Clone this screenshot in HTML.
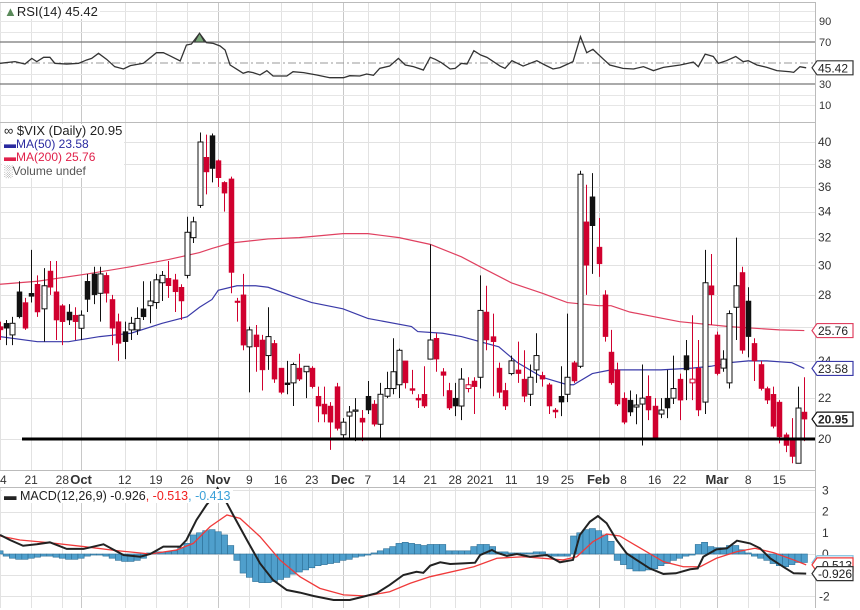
<!DOCTYPE html>
<html><head><meta charset="utf-8"><style>
html,body{margin:0;padding:0;background:#fff;}
svg{display:block;font-family:"Liberation Sans",sans-serif;}
</style></head><body>
<svg id="chart" width="860" height="610" viewBox="0 0 860 610" xmlns="http://www.w3.org/2000/svg"></svg>
<script>
// ---- data ----
const candleOpen=[26.0,26.2,25.5,28.2,27.5,28.1,28.7,27.1,29.6,28.2,27.3,26.9,26.7,25.9,28.9,29.4,28.1,29.3,27.7,26.3,25.7,25.8,25.8,27.1,27.3,27.5,28.8,29.1,29.0,28.5,29.3,32.0,34.5,38.6,40.6,38.3,36.4,36.7,27.6,28.0,24.8,25.5,25.2,24.3,25.0,23.6,22.8,22.8,23.6,23.4,23.6,22.1,21.7,21.6,22.6,20.2,21.1,21.35,21.0,22.1,21.7,20.7,22.1,22.5,22.7,24.0,22.5,22.0,22.2,24.1,25.3,23.4,22.4,22.0,21.6,22.5,22.9,23.1,26.9,25.4,23.6,22.4,23.3,23.5,23.0,22.2,23.5,23.2,22.7,21.4,22.1,22.2,23.9,23.7,33.2,35.2,31.3,28.0,24.5,23.5,22.0,21.9,21.55,21.7,22.1,21.6,21.2,22.0,22.0,23.0,24.3,22.8,23.6,21.8,28.6,25.5,23.6,22.8,27.2,29.5,27.6,25.0,23.8,22.5,22.2,21.8,20.2,20.0,18.9,21.3];
const candleHigh=[26.3,26.4,26.6,28.9,27.8,31.1,29.3,29.8,30.3,30.3,27.4,27.4,27.2,27.0,29.4,29.9,29.9,29.5,28.0,26.8,26.3,26.6,27.2,28.9,28.9,29.4,29.6,30.3,29.4,28.7,33.6,33.6,40.9,40.7,40.8,38.4,36.5,36.9,27.8,29.4,26.0,26.1,25.5,27.2,25.2,23.6,24.0,23.9,24.4,23.7,23.7,22.6,22.6,21.8,22.8,21.0,21.6,22.0,21.4,22.9,21.9,22.8,23.4,25.3,24.7,24.0,23.5,22.2,23.7,31.5,25.6,23.6,22.8,22.8,23.6,23.1,23.1,29.3,28.6,26.8,23.9,22.8,24.3,25.1,24.6,23.8,25.6,23.4,22.8,21.5,23.7,26.8,24.0,37.4,36.2,37.2,33.5,28.3,25.8,23.9,22.3,22.4,22.2,23.8,23.2,22.0,22.0,23.5,24.3,23.3,25.2,26.7,25.2,31.1,30.8,25.7,24.6,27.0,32.0,29.9,28.5,25.3,24.0,22.6,22.6,21.9,20.3,21.0,22.6,23.1];
const candleLow=[25.2,24.9,24.9,26.5,25.8,27.5,26.6,25.1,28.0,25.2,24.9,26.1,25.2,25.2,26.9,27.4,26.3,27.5,24.9,24.0,24.1,25.2,25.5,26.4,26.2,27.1,27.6,27.8,26.9,26.4,29.1,31.6,34.3,35.4,36.4,36.0,34.0,28.1,26.3,24.6,22.3,23.4,22.4,23.5,22.8,22.2,22.2,21.6,22.9,22.0,22.5,20.8,20.8,19.5,20.4,20.0,20.0,19.9,19.9,21.2,20.6,20.0,22.0,22.2,22.0,22.5,22.2,21.5,21.5,24.1,23.4,22.1,21.4,21.1,20.9,22.3,21.2,22.5,24.6,22.1,22.0,21.4,23.2,22.8,21.8,21.6,22.8,22.6,21.2,21.0,21.1,21.8,22.8,23.6,28.0,29.4,29.2,25.1,22.7,21.6,20.7,21.1,20.7,19.7,20.9,20.0,21.0,21.0,21.7,20.9,21.9,21.9,21.1,21.2,26.1,23.2,23.4,22.5,25.2,24.4,24.2,22.9,22.4,21.7,20.5,19.8,19.4,18.9,18.9,19.9];
const candleClose=[25.8,25.9,26.2,26.6,25.9,27.9,26.9,28.6,28.5,26.4,26.3,26.4,26.3,26.7,27.7,28.0,29.4,28.1,25.9,25.0,25.1,26.2,26.5,26.6,27.6,29.0,29.3,28.6,28.2,27.6,32.4,33.2,40.0,37.3,37.6,36.8,35.5,29.5,27.5,24.9,25.8,24.8,23.5,25.4,23.0,22.3,22.7,23.8,23.0,23.7,22.6,21.6,21.2,20.8,20.5,20.8,21.3,21.4,20.8,21.4,20.7,22.2,22.5,23.4,24.6,22.8,22.4,21.9,21.6,25.2,24.1,23.2,21.5,21.6,23.0,22.7,22.6,27.0,25.2,25.1,22.3,21.6,24.0,23.3,22.1,23.1,24.3,23.0,21.6,21.3,21.8,23.1,22.9,37.1,30.0,32.9,30.1,25.4,22.8,21.7,20.8,21.3,21.65,22.0,21.4,20.0,21.4,21.5,22.5,21.9,23.5,23.0,21.4,28.8,28.0,23.3,24.1,26.8,28.6,24.6,25.4,24.0,22.5,21.9,20.6,20.1,19.7,19.2,21.5,20.95];
const ma50Days=[0,6,11,16,21,26,30,32,34,35,38,41,43,47,50,55,59,66,67,71,74,77,80,83,87,91,92,95,98,101,106,111,114,117,120,123,127,129];
const ma50Vals=[25.4,25.1,25.1,25.4,25.6,26.2,26.6,27.2,27.7,28.3,28.6,28.6,28.5,27.9,27.5,27.1,26.5,26.0,25.7,25.6,25.4,25.1,24.8,23.9,23.1,22.7,22.7,23.3,23.5,23.5,23.5,23.6,23.7,23.9,24.0,24.0,23.9,23.58];
const ma200Days=[0,6,14,21,27,32,34,37,43,48,55,59,64,69,74,77,82,87,91,96,98,101,109,117,125,129];
const ma200Vals=[28.7,28.9,29.4,29.9,30.4,30.9,31.2,31.6,31.9,32.0,32.3,32.3,32.0,31.5,30.6,29.9,28.8,28.1,27.5,27.3,27.3,26.9,26.3,26.0,25.8,25.76];
const rsiDays=[0,2.4,4,5.1,5.9,7,8,8.8,10.7,12.6,13.9,14.7,15.8,17.1,18.4,19.8,20.9,23,25.1,26.2,27.3,28.9,29.9,30.7,32,33.1,34.2,35.3,36.1,36.9,38,39,39.8,40.6,41.7,42.8,43.8,46,47,48.7,50.8,52.9,55.1,56.1,57.7,58.8,59.9,60.9,62.5,63.9,65,66.3,67.9,69,69.8,70.8,72.2,73,74,74.9,76,77.1,78.1,80.2,81,82.1,83.9,86.1,87.4,88.7,89.8,91.9,93.1,94.1,95.1,96.8,97.8,99.9,101.6,103.2,104.8,106.4,109.1,111.2,112,113.1,114.4,115.2,116.5,118,119.2,120,121.4,123,124.6,126.7,127.3,128.3,129.3];
const rsiVals=[49.7,51.3,49.0,54.4,51.3,55.4,55.4,49.7,49.0,49.7,52.9,54.4,59.2,53.5,46.5,44.3,47.5,49.7,59.8,59.8,56.7,51.9,67.1,68.1,78.3,69.4,68.7,66.2,62.4,48.1,44.0,40.2,41.7,40.8,38.6,42.7,37.6,37.6,41.7,40.8,38.6,36.0,36.0,37.9,37.6,39.5,38.3,44.9,47.1,54.4,48.1,46.5,43.3,55.4,53.5,50.3,44.3,44.9,49.7,49.0,61.7,57.6,55.4,47.1,44.9,52.2,47.1,52.2,48.1,44.3,45.6,51.3,75.1,59.8,63.0,53.5,48.1,44.9,44.3,46.5,42.7,45.8,48.1,50.9,46.5,58.4,56.2,49.7,52.2,56.2,51.3,52.2,48.1,45.8,42.7,41.7,41.1,46.5,45.42];
const macdDays=[0,1.6,3.7,5.9,8,10.7,13.4,16.6,19.8,22.5,24.1,26.2,28.9,29.9,31.5,33.1,34.2,34.9,36.4,37.4,39.6,41.7,43.8,46,48.1,50.3,53.5,56.1,58.3,60.4,62.5,64.7,66.8,67.9,69,70.6,72.2,74.3,76.2,77,78.9,79.7,81.3,82.9,85,87.7,89.8,91.9,93,94.6,95.9,97.3,98.9,100.5,102.1,104.2,106.4,108.4,110.7,111.9,112.8,114.9,116.6,118.2,120.3,121.9,123.5,125.6,127.3,129.3];
const macdVals=[0.9,0.66,0.39,0.46,0.55,0.24,0.24,0.46,-0.05,-0.13,0,0.35,0.35,0.66,1.6,2.31,2.7,3.1,2.39,1.84,0.66,-0.44,-1.23,-1.7,-1.82,-1.98,-2.17,-2.17,-2.01,-1.85,-1.46,-0.99,-0.84,-0.89,-0.55,-0.39,-0.47,-0.44,-0.41,-0.05,0.19,0.06,-0.09,0,-0.13,-0.05,-0.39,-0.28,0.9,1.52,1.79,1.45,0.66,0.03,-0.28,-0.68,-0.94,-0.91,-0.72,-0.68,-0.13,0.22,0.27,0.63,0.5,0.27,-0.2,-0.6,-0.91,-0.926];
const signalDays=[0,3.2,8,13.4,18.7,24.1,28.3,31,33.7,36.4,38.5,41.7,44.9,48.1,51.3,55.1,58.8,62.5,65.8,69,76,79.7,84,90.3,92.5,95.1,97.3,99.4,103.2,106.4,109.6,112.3,114.9,118.2,121.1,124.1,127.3,129.3];
const signalVals=[0.85,0.66,0.53,0.35,0.16,0,0.19,0.5,1.29,1.84,1.68,0.82,-0.28,-1.07,-1.62,-1.93,-1.98,-1.78,-1.38,-1.07,-0.6,-0.2,-0.13,-0.28,-0.13,0.58,0.94,0.85,0.19,-0.36,-0.6,-0.6,-0.2,0.11,0.27,0.06,-0.28,-0.513];
const histVals=[0.15,-0.1,-0.2,-0.25,-0.25,-0.2,-0.15,-0.1,-0.1,-0.15,-0.2,-0.25,-0.25,-0.2,-0.1,-0.05,-0.05,-0.1,-0.2,-0.3,-0.35,-0.35,-0.3,-0.2,0.05,0.1,0.1,0.1,0.15,0.3,0.5,0.9,1.0,1.1,1.15,1.05,0.9,0.4,-0.3,-0.9,-1.1,-1.3,-1.35,-1.35,-1.3,-1.2,-1.1,-0.95,-0.85,-0.75,-0.65,-0.55,-0.5,-0.45,-0.4,-0.3,-0.25,-0.15,-0.1,-0.05,0.05,0.15,0.25,0.35,0.5,0.55,0.5,0.45,0.4,0.45,0.45,0.45,0.15,0.15,0.15,0.15,0.35,0.45,0.45,0.35,0.1,0.1,0.05,0.05,0.05,0.05,0.1,0.1,-0.1,-0.1,-0.1,-0.1,0.85,1.0,1.15,1.2,1.1,0.9,0.6,-0.3,-0.5,-0.7,-0.8,-0.8,-0.75,-0.7,-0.55,-0.45,-0.3,-0.2,-0.1,-0.05,0.45,0.55,0.35,0.3,0.3,0.4,0.4,0.2,0.05,-0.1,-0.2,-0.3,-0.45,-0.55,-0.6,-0.5,-0.4,-0.4];
const tickDays=[0,5,10,13,20,25,30,35,40,45,50,55,59,64,69,73,77,82,87,91,96,100,105,109,115,120,125];
const tickLabels=["14","21","28","Oct","12","19","26","Nov","9","16","23","Dec","7","14","21","28","2021","11","19","25","Feb","8","16","22","Mar","8","15"];
const priceTicks=[20,22,24,26,28,30,32,34,36,38,40];
const rsiTicks=[10,30,50,70,90];
const macdTicks=[-2,-1,0,1,2,3];
const supportLevel=20;

// ---- axes ----
const NS="http://www.w3.org/2000/svg";
const svg=document.getElementById('chart');
const PR=815;
const xd=i=>i*6.235;
const yP=p=>142+428.5*Math.log(40/p);
const yR=r=>63-(r-50)*1.05;
const yM=m=>554-m*21.2;
function mk(tag,attrs,parent){const e=document.createElementNS(NS,tag);for(const k in attrs)e.setAttribute(k,attrs[k]);(parent||svg).appendChild(e);return e;}
function txt(x,y,s,attrs,parent){const t=mk('text',Object.assign({x:x,y:y},attrs),parent);t.textContent=s;return t;}

// panel frames
const gGrid=mk('g',{});


mk('line',{x1:0,y1:2.5,x2:PR,y2:2.5,stroke:'#bbb'},gGrid);
mk('line',{x1:0,y1:122.5,x2:PR,y2:122.5,stroke:'#bbb'},gGrid);
mk('line',{x1:0,y1:470.5,x2:PR,y2:470.5,stroke:'#bbb'},gGrid);
mk('line',{x1:0,y1:487.5,x2:PR,y2:487.5,stroke:'#bbb'},gGrid);
mk('line',{x1:PR+0.5,y1:2,x2:PR+0.5,y2:608,stroke:'#bbb'},gGrid);
// vertical grid
tickDays.forEach((d,k)=>{const isMonth=isNaN(+tickLabels[k]);const x=Math.round(xd(d))+0.5;
 [[3,122],[123,470],[488,608]].forEach(r=>mk('line',{x1:x,y1:r[0],x2:x,y2:r[1],stroke:isMonth?'#c8c8c8':'#e2e2e2'},gGrid));});
// horizontal grids
for(let r=10;r<=100;r+=10){if(r===30||r===70||r===50)continue;const y=Math.round(yR(r))+0.5;mk('line',{x1:0,y1:y,x2:PR,y2:y,stroke:'#e6e6e6'},gGrid);}
priceTicks.forEach(p=>{const y=Math.round(yP(p))+0.5;mk('line',{x1:0,y1:y,x2:PR,y2:y,stroke:'#e2e2e2'},gGrid);});
macdTicks.forEach(m=>{const y=Math.round(yM(m))+0.5;mk('line',{x1:0,y1:y,x2:PR,y2:y,stroke:'#e2e2e2'},gGrid);});

// ---- RSI panel ----
const gR=mk('g',{});


mk('line',{x1:0,y1:yR(70),x2:PR,y2:yR(70),stroke:'#777','stroke-width':1.3},gR);
mk('line',{x1:0,y1:yR(30),x2:PR,y2:yR(30),stroke:'#777','stroke-width':1.3},gR);
mk('line',{x1:0,y1:yR(50),x2:PR,y2:yR(50),stroke:'#999','stroke-dasharray':'8,3,2,3'},gR);
const rsiLine=mk('polyline',{points:rsiDays.map((d,i)=>xd(d)+','+yR(rsiVals[i])).join(' '),fill:'none',stroke:'#333','stroke-width':1.3},gR);


// overbought marker
{let mi=0;rsiVals.forEach((v,i)=>{if(v>rsiVals[mi])mi=i;});const px=xd(rsiDays[mi]),py=yR(rsiVals[mi]);
 const tri=mk('polygon',{points:(px-5)+','+yR(70)+' '+(px+5)+','+yR(70)+' '+px+','+py,fill:'#7aa87a',stroke:'#333'},gR);
 
 }
rsiTicks.forEach(r=>{if(r===50)return;const t=txt(819,yR(r)+4,String(r),{'font-size':11,fill:'#333'},gR);
 
 });

// ---- Main panel ----
const gM=mk('g',{});


const ma200=mk('polyline',{points:ma200Days.map((d,i)=>xd(d)+','+yP(ma200Vals[i])).join(' '),fill:'none',stroke:'#e04060','stroke-width':1.2},gM);


const ma50=mk('polyline',{points:ma50Days.map((d,i)=>xd(d)+','+yP(ma50Vals[i])).join(' '),fill:'none',stroke:'#3a3aa8','stroke-width':1.2},gM);


candleClose.forEach((c,i)=>{
 const o=candleOpen[i],h=candleHigh[i],l=candleLow[i];
 const prev=i>0?candleClose[i-1]:o;
 const col=c<prev?'#d0002e':'#111';
 const x=Math.round(xd(i))+0.5;
 const g=mk('g',{},gM);
 
 
 mk('line',{x1:x,y1:yP(h),x2:x,y2:yP(l),stroke:col,'stroke-width':1},g);
 const top=yP(Math.max(o,c)),bot=yP(Math.min(o,c));
 const hollow=c>o;
 mk('rect',{x:x-2.5,y:top,width:5,height:Math.max(1.2,bot-top),fill:hollow?'#fff':col,stroke:col,'stroke-width':hollow?1:0.5},g);
});
const sup=mk('line',{x1:22,y1:yP(supportLevel),x2:PR,y2:yP(supportLevel),stroke:'#000','stroke-width':3},gM);


priceTicks.forEach(p=>{if(p===26)return;const t=txt(818,yP(p)+4,String(p),{'font-size':12,fill:'#333'},gM);
 
 });

// ---- MACD panel ----
const gD=mk('g',{});


histVals.forEach((v,i)=>{const x=xd(i);const y0=yM(0),y1=yM(v);
 const r=mk('rect',{x:x-3.1,y:Math.min(y0,y1),width:6.2,height:Math.abs(y1-y0),fill:'#4f9fcc',stroke:'#2d6f96','stroke-width':0.6},gD);
 
 });
const sig=mk('polyline',{points:signalDays.map((d,i)=>xd(d)+','+yM(signalVals[i])).join(' '),fill:'none',stroke:'#f03a3a','stroke-width':1.3},gD);


const mac=mk('polyline',{points:macdDays.map((d,i)=>xd(d)+','+yM(macdVals[i])).join(' '),fill:'none',stroke:'#222','stroke-width':2},gD);


macdTicks.forEach(m=>{if(m===-1)return;const t=txt(m<0?819:822,yM(m)+4,String(m),{'font-size':12,fill:'#333'},gD);
 
 });

// ---- x axis labels ----
tickDays.forEach((d,k)=>{const isMonth=isNaN(+tickLabels[k]);
 const t=txt(xd(d),484,tickLabels[k],{'font-size':isMonth?13:12,'font-weight':isMonth?'bold':'normal',fill:'#333','text-anchor':'middle'});
 
 });

// ---- value boxes ----
function vbox(y,label,col,bold,name){const g=mk('g',{});
 
 
 mk('polygon',{points:'812,'+y+' 817,'+(y-7)+' 853,'+(y-7)+' 853,'+(y+7)+' 817,'+(y+7),fill:'#fff',stroke:col,'stroke-width':1.2},g);
 txt(818,y+4.5,label,{'font-size':12,'font-weight':bold?'bold':'normal',fill:'#222'},g);}
vbox(yR(45.42),'45.42','#333',false,'rsi-value-box');
vbox(yP(25.76),'25.76','#e04060',false,'ma200-value-box');
vbox(yP(23.58),'23.58','#3a3aa8',false,'ma50-value-box');
vbox(yP(20.95),'20.95','#111',true,'close-value-box');
vbox(yM(-0.413),'','#7fc0e0',false,'hist-value-box');
vbox(yM(-0.513),'-0.513','#f03a3a',false,'signal-value-box');
vbox(yM(-0.926),'-0.926','#333',false,'macd-value-box');
</script>
<svg width="0" height="0"></svg>
<div style="position:absolute;left:0;top:0;width:860px;height:610px;pointer-events:none;font-family:'Liberation Sans',sans-serif;">
 <div style="position:absolute;left:2px;top:4px;font-size:13px;color:#222;background:#fff;padding:0 2px;"><span style="color:#5a8a5a">&#9650;</span>RSI(14) 45.42</div>
 <div style="position:absolute;left:2px;top:124px;font-size:12px;line-height:13.5px;background:#fff;padding:0 2px;">
  <div style="color:#222;font-size:13px">&#8734; $VIX (Daily) 20.95</div>
  <div style="color:#2a2aa0">&#9644;MA(50) 23.58</div>
  <div style="color:#e0204a">&#9644;MA(200) 25.76</div>
  <div style="color:#555">&#9617;Volume undef</div>
 </div>
 <div style="position:absolute;left:2px;top:489px;font-size:12.5px;color:#222;background:#fff;padding:0 2px;">&#9644; MACD(12,26,9) -0.926<span style="color:#f02020">, -0.513</span><span style="color:#3aa0d8">, -0.413</span></div>
</div>
</body></html>
